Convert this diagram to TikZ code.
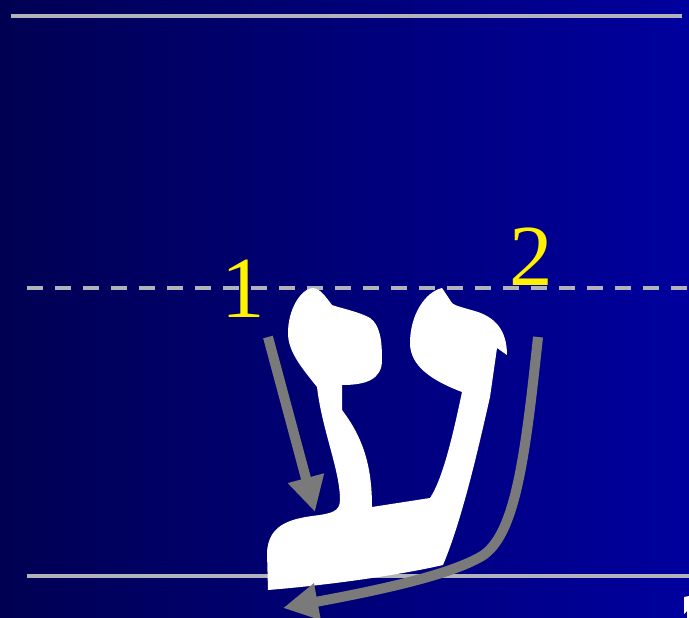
\documentclass[tikz,border=0pt]{standalone}
\usepackage{fontspec}
\usepackage{tikz}
\usetikzlibrary{arrows.meta}
\newfontfamily\numfont{Liberation Serif}
\definecolor{bgleft}{RGB}{0,0,82}
\definecolor{bgright}{RGB}{0,0,158}
\definecolor{rule}{RGB}{178,178,186}
\definecolor{strokegray}{RGB}{122,122,122}

\begin{document}
\begin{tikzpicture}[x=1pt, y=-1pt,
  guide/.style={draw=rule, line width=3.5pt},
  strk/.style={draw=strokegray, line width=10pt, -{Triangle[length=35pt, width=35pt]}},
  num/.style={anchor=base, text=yellow, inner sep=0pt, font=\numfont\fontsize{87}{87}\selectfont},
  letter/.style={fill=white}]

% background and writing lines
\shade[left color=bgleft, right color=bgright] (0,0) rectangle (689,618);
\useasboundingbox (0,0) rectangle (689,618);
\draw[guide] (11,16) -- (682,16);
\draw[guide, dash pattern=on 16pt off 12pt] (27,288) -- (689,288);
\draw[guide] (27,576) -- (689,576);

% the letter ayin
\fill[letter] (312,288) .. controls (300,290) and (288,310) .. (288,333)
  .. controls (288,352) and (302,368) .. (317,387)
  .. controls (322,430) and (340,470) .. (340,500)
  .. controls (340,512) and (330,513) .. (320,515)
  .. controls (295,518) and (268,522) .. (267,553)
  -- (268,590)
  .. controls (330,585) and (400,575) .. (443,565)
  .. controls (462,520) and (478,450) .. (490,397)
  -- (497,348) -- (507,355)
  .. controls (507,330) and (495,318) .. (478,312)
  .. controls (465,308) and (455,306) .. (452,303)
  -- (442,288)
  .. controls (425,292) and (410,315) .. (410,343)
  .. controls (410,365) and (430,380) .. (462,392)
  .. controls (452,440) and (442,480) .. (430,498)
  -- (372,507)
  .. controls (372,470) and (365,440) .. (342,410)
  -- (342,385)
  .. controls (365,385) and (382,380) .. (382,360)
  .. controls (382,340) and (380,325) .. (370,318)
  .. controls (360,312) and (340,308) .. (332,305)
  .. controls (325,296) and (320,288) .. cycle;
\fill[letter] (684,597) -- (689,596) -- (689,618) -- (687,618)
  -- (687,611) -- (684,614) -- cycle;

% stroke order
\coordinate (start1) at (268,337);
\coordinate (end1) at (315,512);
\coordinate (start2) at (538,337);
\coordinate (bend2) at (482,556);
\coordinate (end2) at (283,608);
\draw[strk] (start1) -- (end1);
\draw[strk] (start2) .. controls (525,460) and (515,535) .. (bend2)
  .. controls (450,575) and (380,590) .. (end2);

\node[num] (one) at (243,317) {1};
\node[num] (two) at (531,285) {2};
\end{tikzpicture}
\end{document}
